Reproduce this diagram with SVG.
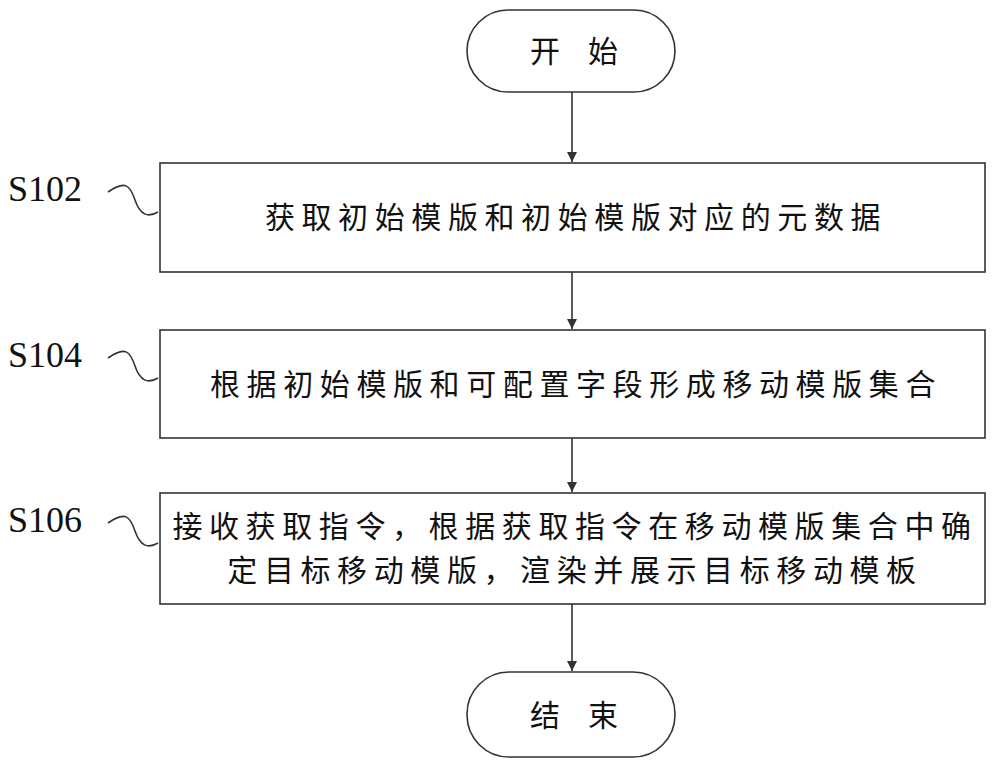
<svg xmlns="http://www.w3.org/2000/svg" width="1000" height="769" viewBox="0 0 1000 769">
<style>
.b{fill:#fff;stroke:#333;stroke-width:1.6}
.t{font-family:"Liberation Serif","Noto Sans CJK SC",serif;font-size:30px;letter-spacing:6.6px;fill:#111}
.l{font-family:"Liberation Serif",serif;font-size:36px;fill:#111}
.c{fill:none;stroke:#333;stroke-width:1.6}
</style>
<defs><marker id="a" markerWidth="12" markerHeight="12" refX="10" refY="5" orient="auto" markerUnits="userSpaceOnUse"><path d="M0,0 L10,5 L0,10 Z" fill="#333"/></marker></defs>
<rect width="1000" height="769" fill="#fff"/>
<g id="start"><rect class="b" x="467" y="10" width="208" height="82" rx="41"/><text class="t" x="530" y="62">开</text><text class="t" x="588" y="62">始</text></g>
<g id="s102"><rect class="b" x="160" y="163" width="825" height="109"/><text class="t" x="576" y="228" text-anchor="middle">获取初始模版和初始模版对应的元数据</text></g>
<g id="s104"><rect class="b" x="160" y="330" width="825" height="108"/><text class="t" x="576" y="395" text-anchor="middle">根据初始模版和可配置字段形成移动模版集合</text></g>
<g id="s106"><rect class="b" x="160" y="493" width="825" height="111"/><text class="t" x="575" y="537" text-anchor="middle">接收获取指令，根据获取指令在移动模版集合中确</text><text class="t" x="575" y="581" text-anchor="middle">定目标移动模版，渲染并展示目标移动模板</text></g>
<g id="end"><rect class="b" x="467" y="672" width="208" height="85" rx="42"/><text class="t" x="530" y="726">结</text><text class="t" x="588" y="726">束</text></g>
<g id="labels">
<text class="l" x="8" y="201">S102</text><text class="l" x="8" y="367">S104</text><text class="l" x="8" y="532">S106</text>
<path class="c" d="M108,192 C125,180 130,185 135,200 C140,215 148,218 158,212"/>
<path class="c" d="M108,358 C125,346 130,351 135,366 C140,381 148,384 158,378"/>
<path class="c" d="M108,523 C125,511 130,516 135,531 C140,546 148,549 158,543"/>
</g>
<g id="connectors">
<line class="c" x1="572" y1="92" x2="572" y2="162" marker-end="url(#a)"/>
<line class="c" x1="572" y1="272" x2="572" y2="329" marker-end="url(#a)"/>
<line class="c" x1="572" y1="438" x2="572" y2="492" marker-end="url(#a)"/>
<line class="c" x1="572" y1="604" x2="572" y2="671" marker-end="url(#a)"/>
</g>
</svg>
